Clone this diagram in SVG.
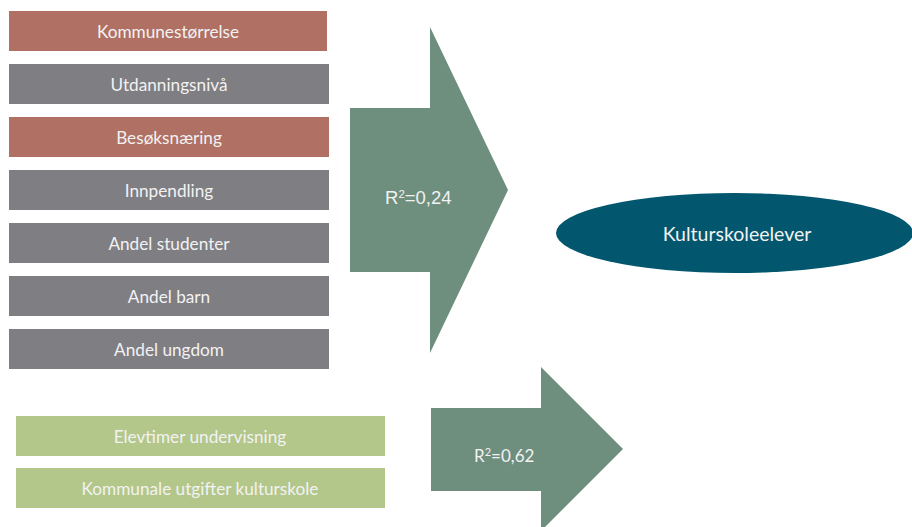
<svg xmlns="http://www.w3.org/2000/svg" width="912" height="527" viewBox="0 0 912 527">
<style>
.box text{font-family:Lato,"Liberation Sans",sans-serif;font-size:17.2px;fill:#F2F2F2;text-anchor:middle}
.red{fill:#B07064}
.grey{fill:#7F7E83}
.green{fill:#B3C78B}
.arrow{fill:#6E8E7E}
.lbl{fill:#F2F2F2}
</style>
<rect width="912" height="527" fill="#FFFFFF"/>
<g id="n1" class="box"><rect class="red" x="9" y="11" width="318" height="40"/><text x="168" y="38">Kommunestørrelse</text></g>
<g id="n2" class="box"><rect class="grey" x="9" y="64" width="320" height="40"/><text x="169" y="91">Utdanningsnivå</text></g>
<g id="n3" class="box"><rect class="red" x="9" y="117" width="320" height="40"/><text x="169" y="144">Besøksnæring</text></g>
<g id="n4" class="box"><rect class="grey" x="9" y="170" width="320" height="40"/><text x="169" y="197">Innpendling</text></g>
<g id="n5" class="box"><rect class="grey" x="9" y="223" width="320" height="40"/><text x="169" y="250">Andel studenter</text></g>
<g id="n6" class="box"><rect class="grey" x="9" y="276" width="320" height="40"/><text x="169" y="303">Andel barn</text></g>
<g id="n7" class="box"><rect class="grey" x="9" y="329" width="320" height="40"/><text x="169" y="356">Andel ungdom</text></g>
<g id="n8" class="box"><rect class="green" x="16" y="416" width="369" height="40"/><text x="200" y="443">Elevtimer undervisning</text></g>
<g id="n9" class="box"><rect class="green" x="16" y="468" width="369" height="40"/><text x="200" y="495">Kommunale utgifter kulturskole</text></g>
<g id="connectors">
<g id="a1"><polygon class="arrow" points="350,108 430,108 430,27 508,190 430,353 430,272 350,272"/><text class="lbl" x="385" y="204" font-family="Liberation Sans,Arial,sans-serif" font-size="18.5">R<tspan font-size="11.5" dy="-6.5">2</tspan><tspan dy="6.5">=0,24</tspan></text></g>
<g id="a2"><polygon class="arrow" points="431,408 541,408 541,367 623,449 541,531 541,491 431,491"/><text class="lbl" x="474" y="462" font-family="Lato,Liberation Sans,sans-serif" font-size="17">R<tspan font-size="11" dy="-6">2</tspan><tspan dy="6">=0,62</tspan></text></g>
</g>
<g id="n10"><ellipse cx="734.5" cy="233" rx="178.5" ry="40" fill="#02566E"/><text x="737" y="241" font-family="Lato,Liberation Sans,sans-serif" font-size="19.5" fill="#F2F2F2" text-anchor="middle">Kulturskoleelever</text></g>
</svg>
